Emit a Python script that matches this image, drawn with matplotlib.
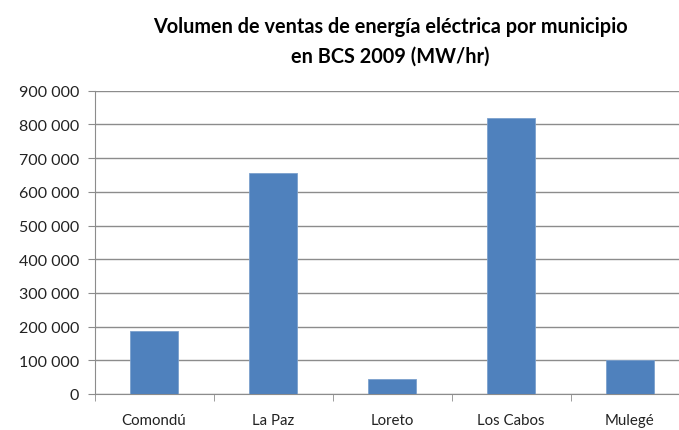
import matplotlib
matplotlib.use('Agg')
import matplotlib.pyplot as plt
import numpy as np

municipios = ['Comondú', 'La Paz', 'Loreto', 'Los Cabos', 'Mulegé']
ventas = [186000, 655000, 44500, 818000, 101000]
yticks = [0, 100000, 200000, 300000, 400000, 500000, 600000, 700000, 800000, 900000]

plt.rcParams['font.family'] = ['Lato', 'DejaVu Sans']

fig = plt.figure(figsize=(6.79, 4.31), dpi=100)
ax = fig.add_axes([94.5/679, 1-395/431, 595/679, (395-91.7)/431])

x = np.arange(len(municipios))
ax.bar(x, ventas, width=0.40, color='#4F81BD', edgecolor='#7BA0CD', linewidth=0.6, zorder=3)

ax.set_xlim(-0.5, len(municipios)-0.5)
ax.set_ylim(0, 900000)
ax.set_yticks(yticks)
ax.set_yticklabels([format(v, ',').replace(',', ' ') for v in yticks], fontsize=11.5, color='#222222')
ax.yaxis.grid(True, color='#8C8C8C', linewidth=1, zorder=0)

ax.set_xticks(x)
ax.set_xticklabels(municipios, fontsize=10.8, color='#222222')
ax.set_xticks(np.arange(len(municipios)+1)-0.5, minor=True)
ax.tick_params(axis='x', which='major', length=0, pad=14)
ax.tick_params(axis='x', which='minor', length=5, color='#8C8C8C')
ax.tick_params(axis='y', length=5, color='#8C8C8C', pad=6)

for s in ['top', 'right']:
    ax.spines[s].set_visible(False)
ax.spines['left'].set_color('#8C8C8C')
ax.spines['bottom'].set_color('#8C8C8C')

fig.text(390/679, 1-27/431, 'Volumen de ventas de energía eléctrica por municipio',
         ha='center', va='center', fontsize=14.3, fontweight='bold')
fig.text(390/679, 1-57/431, 'en BCS 2009 (MW/hr)',
         ha='center', va='center', fontsize=14.3, fontweight='bold')

fig.savefig('out.png', dpi=100)
